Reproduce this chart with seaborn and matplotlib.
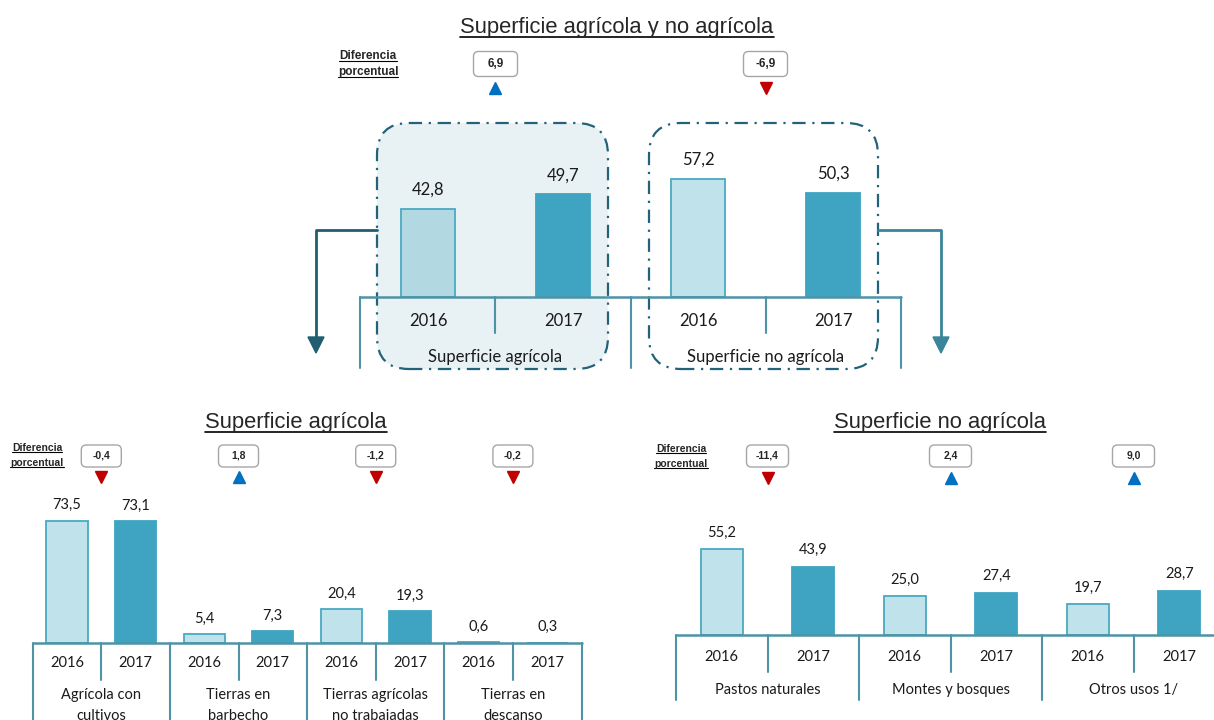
import matplotlib
matplotlib.use("Agg")
import matplotlib.pyplot as plt
from matplotlib.patches import FancyBboxPatch, Polygon
from matplotlib.lines import Line2D
import pandas as pd
import seaborn as sns

# Datos (porcentajes)
years = ["2016", "2017"]

top_groups = ["Superficie agrícola", "Superficie no agrícola"]
top_2016 = [42.8, 57.2]
top_2017 = [49.7, 50.3]
top_diff = [6.9, -6.9]

agr_groups = ["Agrícola con\ncultivos", "Tierras en\nbarbecho",
              "Tierras agrícolas\nno trabajadas", "Tierras en\ndescanso"]
agr_2016 = [73.5, 5.4, 20.4, 0.6]
agr_2017 = [73.1, 7.3, 19.3, 0.3]
agr_diff = [-0.4, 1.8, -1.2, -0.2]

noagr_groups = ["Pastos naturales", "Montes y bosques", "Otros usos 1/"]
noagr_2016 = [55.2, 25.0, 19.7]
noagr_2017 = [43.9, 27.4, 28.7]
noagr_diff = [-11.4, 2.4, 9.0]

LIGHT = "#c0e2ea"
LIGHT_EDGE = "#4aaac1"
DARK = "#3fa4c1"
LINE = "#4f93a6"
BLUE = "#0070c0"
RED = "#c00000"

sns.set_style("white")
plt.rcParams["font.family"] = ["Lato", "DejaVu Sans"]
NARROW = ["Liberation Sans", "DejaVu Sans"]

W, H = 1214, 720
fig = plt.figure(figsize=(W / 100, H / 100), dpi=100)
underline = []


def fmt(v):
    return f"{v:.1f}".replace(".", ",")


def fx(x):
    return x / W


def fy(y):
    return 1 - y / H


def panel(x0, x1, base, top, ppu, groups, v16, v17, bar_w, fs_val, fs_year,
          pad, long_d, short_d, year_off, grp_off, grp_va="center", lsp=1.2):
    ax = fig.add_axes([fx(x0), fy(base), (x1 - x0) / W, (base - top) / H])
    rows = []
    for g, a, b in zip(groups, v16, v17):
        rows.append({"slot": g + " 2016", "Año": "2016", "valor": a})
        rows.append({"slot": g + " 2017", "Año": "2017", "valor": b})
    df = pd.DataFrame(rows)
    sns.barplot(data=df, x="slot", y="valor", hue="Año", dodge=False,
                palette={"2016": LIGHT, "2017": DARK}, saturation=1,
                width=bar_w, legend=False, ax=ax, zorder=2)
    n = len(df)
    ax.set_xlim(-0.5, n - 0.5)
    ax.set_ylim(0, (base - top) / ppu)
    ax.set_axis_off()
    for cont, ec in zip(ax.containers, [LIGHT_EDGE, DARK]):
        for p in cont:
            p.set_edgecolor(ec)
            p.set_linewidth(1.3)
        ax.bar_label(cont, labels=[fmt(v) for v in cont.datavalues],
                     padding=pad, fontsize=fs_val, color="#1a1a1a")
    ax.plot([-0.5, n - 0.5], [0, 0], color=LINE, lw=1.8, clip_on=False, zorder=3)
    for k in range(n + 1):
        d = long_d if k % 2 == 0 else short_d
        ax.plot([k - 0.5, k - 0.5], [0, -d / ppu], color=LINE, lw=1.5,
                clip_on=False, zorder=3)
    for i, yr in enumerate(df["Año"]):
        ax.text(i, -year_off / ppu, yr, ha="center", va="center",
                fontsize=fs_year, color="#1a1a1a")
    for g, lab in enumerate(groups):
        ax.text(2 * g + 0.5, -grp_off / ppu, lab, ha="center", va=grp_va,
                fontsize=fs_year, color="#1a1a1a", linespacing=lsp)
    return ax


def diff_boxes(ax, diffs, by, ty, bw, bh, fs):
    for g, d in enumerate(diffs):
        cx = ax.transData.transform((2 * g + 0.5, 0))[0]
        box = FancyBboxPatch(((cx - bw / 2) / 100, (H - by - bh / 2) / 100),
                             bw / 100, bh / 100,
                             boxstyle="round,pad=0,rounding_size=0.05",
                             transform=fig.dpi_scale_trans, fc="white",
                             ec="#a6a6a6", lw=1.0)
        fig.add_artist(box)
        fig.text(fx(cx), fy(by), fmt(d), ha="center", va="center",
                 fontsize=fs, fontweight="bold", family=NARROW)
        fig.add_artist(Line2D([fx(cx)], [fy(ty)], marker="^" if d > 0 else "v",
                              ms=8, color=BLUE if d > 0 else RED, ls="none",
                              transform=fig.transFigure))


def label_diff(x, y1, y2, fs):
    for y, s in [(y1, "Diferencia"), (y2, "porcentual")]:
        t = fig.text(fx(x), fy(y), s, ha="center", va="center", fontsize=fs,
                     fontweight="bold", family=NARROW)
        underline.append((t, 0.8))


def title(x, y, s):
    t = fig.text(fx(x), fy(y), s, ha="center", va="baseline", fontsize=15.8,
                 family=NARROW)
    underline.append((t, 1.2))


# Recuadros punteados del panel superior
for (bx0, bx1), fill in [((377, 608), "#e8f1f3"), ((649, 878), "none")]:
    fig.add_artist(FancyBboxPatch((bx0 / 100, (H - 369) / 100), (bx1 - bx0) / 100,
                                  (369 - 123) / 100,
                                  boxstyle="round,pad=0,rounding_size=0.32",
                                  transform=fig.dpi_scale_trans, fc=fill,
                                  ec="#22627a", lw=1.6,
                                  ls=(0, (6, 3, 1, 3)), zorder=-1))

ax_top = panel(360.5, 900.5, 297, 110, 2.063, top_groups, top_2016, top_2017,
               0.4, 12, 12, 8, 71, 36, 24, 60)
ax_top.containers[0][0].set_facecolor("#b2d8e2")

ax_agr = panel(32.7, 581.5, 643, 495, 1.665, agr_groups, agr_2016, agr_2017,
               0.6, 10.5, 10.5, 6, 78, 37, 20, 45, grp_va="top", lsp=1.6)
ax_noagr = panel(676, 1225, 635, 510, 1.55, noagr_groups, noagr_2016,
                 noagr_2017, 0.46, 10.5, 10.5, 7, 65, 37, 22, 55)

diff_boxes(ax_top, top_diff, 64, 88, 44, 25, 8.5)
diff_boxes(ax_agr, agr_diff, 456, 477, 40, 22, 7.5)
diff_boxes(ax_noagr, noagr_diff, 456, 478, 42, 22, 7.5)

label_diff(368, 56, 72, 8.5)
label_diff(37, 448, 463, 7.5)
label_diff(681, 449, 464, 7.5)

title(617, 33, "Superficie agrícola y no agrícola")
title(296, 428, "Superficie agrícola")
title(940, 428, "Superficie no agrícola")

# Flechas hacia los paneles inferiores
for pts, head, col in [([(377, 230), (316, 230), (316, 338)],
                        [(308, 337), (324, 337), (316, 353)], "#205e70"),
                       ([(878, 230), (941, 230), (941, 338)],
                        [(933, 337), (949, 337), (941, 353)], "#3a8599")]:
    fig.add_artist(Line2D([fx(p[0]) for p in pts], [fy(p[1]) for p in pts],
                          color=col, lw=2, transform=fig.transFigure))
    fig.add_artist(Polygon([(fx(p[0]), fy(p[1])) for p in head], closed=True,
                           color=col, transform=fig.transFigure))

# Subrayados
fig.canvas.draw()
inv = fig.transFigure.inverted()
for t, lw in underline:
    bb = t.get_window_extent()
    (a0, b0), (a1, _) = inv.transform([(bb.x0, bb.y0 + 1), (bb.x1, bb.y0 + 1)])
    fig.add_artist(Line2D([a0, a1], [b0, b0], color="black", lw=lw,
                          transform=fig.transFigure))

fig.savefig("out.png", dpi=100)
